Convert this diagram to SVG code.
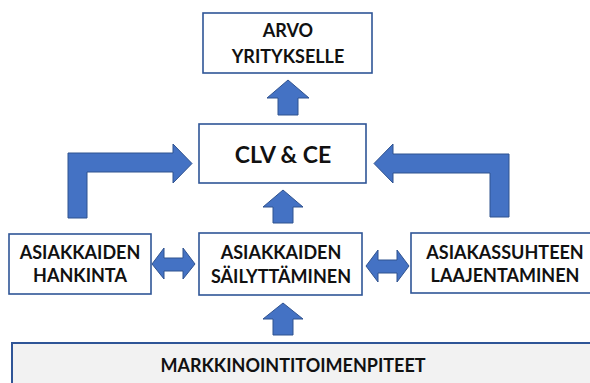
<svg xmlns="http://www.w3.org/2000/svg" width="590" height="383" viewBox="0 0 590 383">
  <style>
    .box { fill: #ffffff; stroke: #2F5597; stroke-width: 1.6; }
    .base { fill: #F2F2F2; stroke: #2F5597; stroke-width: 2; }
    .arrow { fill: #4472C4; stroke: #2F528F; stroke-width: 1; stroke-linejoin: miter; }
    .lbl { font-family: Lato, "Liberation Sans", sans-serif; font-weight: bold; font-size: 18px; fill: #111111; text-anchor: middle; }
    .big { font-size: 23px; }
  </style>
  <rect width="590" height="383" fill="#ffffff"/>

  <!-- block arrows -->
  <g id="connectors">
    <polygon class="arrow" points="288,80 309,98 298,98 298,115 278,115 278,98 267,98"/>
    <polygon class="arrow" points="283,190 303,207 293,207 293,223 273,223 273,207 263,207"/>
    <polygon class="arrow" points="283,303 303,319 293,319 293,335 273,335 273,319 263,319"/>
    <polygon class="arrow" points="68,218 68,153 173,153 173,144 192,163.5 173,183 173,172 87,172 87,218"/>
    <polygon class="arrow" points="509,217 509,154 393,154 393,144 374,163.5 393,183 393,173 490,173 490,217"/>
    <polygon class="arrow" points="152,264 164,248 164,258 183,258 183,248 195,264 183,279 183,271 164,271 164,279"/>
    <polygon class="arrow" points="366,266 378,250 378,260 397,260 397,250 409,266 397,282 397,273 378,273 378,282"/>
  </g>

  <g id="arvo">
    <rect class="box" x="203" y="13" width="169" height="60"/>
    <text class="lbl" x="288" y="37">ARVO</text>
    <text class="lbl" x="288" y="63">YRITYKSELLE</text>
  </g>

  <g id="clv-ce">
    <rect class="box" x="199" y="124" width="167" height="59"/>
    <text class="lbl big" x="283" y="163">CLV &amp; CE</text>
  </g>

  <g id="hankinta">
    <rect class="box" x="9" y="234" width="142" height="60"/>
    <text class="lbl" x="80" y="259">ASIAKKAIDEN</text>
    <text class="lbl" x="80" y="282">HANKINTA</text>
  </g>

  <g id="sailyttaminen">
    <rect class="box" x="199" y="233" width="163" height="62"/>
    <text class="lbl" x="281" y="259">ASIAKKAIDEN</text>
    <text class="lbl" x="281" y="283">SÄILYTTÄMINEN</text>
  </g>

  <g id="laajentaminen">
    <rect class="box" x="411" y="233" width="200" height="60"/>
    <text class="lbl" x="505" y="259">ASIAKASSUHTEEN</text>
    <text class="lbl" x="505" y="282">LAAJENTAMINEN</text>
  </g>

  <g id="markkinointi">
    <rect class="base" x="12" y="343" width="600" height="60"/>
    <text class="lbl" x="293" y="372">MARKKINOINTITOIMENPITEET</text>
  </g>
</svg>
